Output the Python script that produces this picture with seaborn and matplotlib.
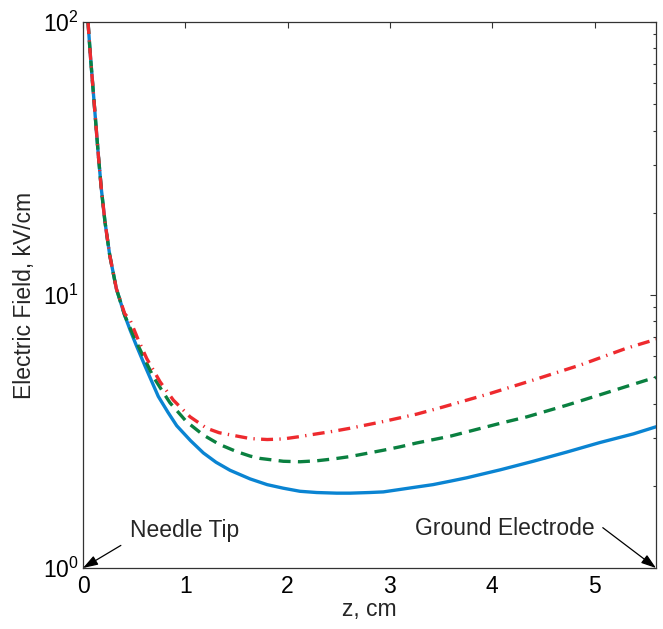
import matplotlib
matplotlib.use("Agg")
import matplotlib.pyplot as plt
import seaborn as sns
import pandas as pd

# ---- data ----
# shared steep section near the needle tip
tip_z = [0.049, 0.072, 0.098, 0.124, 0.150, 0.179, 0.215, 0.261, 0.326]
tip_E = [100, 75.5, 57, 43, 32.5, 24.5, 18.5, 14.0, 10.55]

blue_z = [0.407, 0.46, 0.52, 0.61, 0.736, 0.83, 0.916, 1.05, 1.176, 1.30, 1.437, 1.633, 1.80,
          1.958, 2.12, 2.284, 2.48, 2.61, 2.80, 2.935, 3.10, 3.26, 3.42, 3.59, 3.75, 4.08,
          4.40, 4.73, 5.05, 5.38, 5.6]
blue_E = [8.43, 7.45, 6.55, 5.45, 4.25, 3.72, 3.32, 2.93, 2.64, 2.44, 2.28, 2.12, 2.02,
          1.96, 1.91, 1.89, 1.88, 1.88, 1.89, 1.90, 1.94, 1.98, 2.02, 2.08, 2.14, 2.29,
          2.46, 2.66, 2.88, 3.10, 3.29]

green_z = [0.407, 0.50, 0.59, 0.687, 0.77, 0.85, 1.01, 1.176, 1.33, 1.50, 1.633, 1.73, 1.958,
           2.12, 2.284, 2.45, 2.61, 2.935, 3.10, 3.26, 3.59, 4.08, 4.34, 4.73, 5.12, 5.51, 5.6]
green_E = [8.43, 7.0, 5.95, 5.02, 4.48, 4.03, 3.44, 3.07, 2.84, 2.67, 2.57, 2.52, 2.46,
           2.45, 2.47, 2.51, 2.56, 2.70, 2.78, 2.87, 3.04, 3.39, 3.58, 3.95, 4.39, 4.88, 4.99]

red_z = [0.407, 0.46, 0.54, 0.623, 0.753, 0.883, 1.046, 1.209, 1.33, 1.469, 1.633, 1.80, 1.958,
         2.12, 2.284, 2.45, 2.61, 2.935, 3.10, 3.26, 3.52, 3.98, 4.40, 4.86, 5.31, 5.6]
red_E = [8.55, 8.10, 6.85, 5.85, 4.81, 4.12, 3.58, 3.25, 3.13, 3.06, 2.98, 2.955, 2.97,
         3.03, 3.10, 3.17, 3.25, 3.44, 3.55, 3.66, 3.89, 4.36, 4.88, 5.54, 6.38, 6.88]

xticks = [0, 1, 2, 3, 4, 5]
xlabel = "z, cm"
ylabel = "Electric Field, kV/cm"

sns.set_style("white")
plt.rcParams['font.family'] = ['Liberation Sans', 'DejaVu Sans']
plt.rcParams['mathtext.fontset'] = 'custom'
plt.rcParams['mathtext.rm'] = 'Liberation Sans'
plt.rcParams['mathtext.it'] = 'Liberation Sans:italic'

FS = 16.5

fig = plt.figure(figsize=(6.63, 6.29), dpi=100)
ax = fig.add_axes([83/663, 1-568/629, (656-83)/663, (568-22)/629])

def series(z, E):
    return pd.DataFrame({"z": tip_z + z, "E": tip_E + E})

blue = series(blue_z, blue_E)
green = series(green_z, green_E)
red = series(red_z, red_E)

sns.lineplot(data=blue, x="z", y="E", ax=ax, color="#0a84d2", linewidth=2.4, estimator=None, sort=False)
sns.lineplot(data=green, x="z", y="E", ax=ax, color="#0a8040", linewidth=2.4, estimator=None, sort=False)
sns.lineplot(data=red, x="z", y="E", ax=ax, color="#ee2a2e", linewidth=2.4, estimator=None, sort=False)
ax.lines[1].set_dashes([3.6, 2.2])
ax.lines[2].set_dashes([3.6, 1.9, 0.4, 1.9])

ax.set_yscale("log")
ax.set_xlim(0, 5.6)
ax.set_ylim(1, 100)
ax.set_xticks(xticks)
ax.set_xlabel(xlabel, fontsize=FS, labelpad=0)
ax.set_ylabel(ylabel, fontsize=FS, labelpad=5)

ax.tick_params(which="both", direction="in", top=True, right=True,
               colors="#333333", labelcolor="black", labelsize=FS)
ax.tick_params(which="major", length=4.5, width=0.8)
ax.tick_params(which="minor", length=2.5, width=0.8)
ax.tick_params(axis="x", pad=5)
ax.tick_params(axis="y", pad=3)
for sp in ax.spines.values():
    sp.set_color("#333333")
    sp.set_linewidth(0.9)

arrow = dict(arrowstyle="-|>,head_length=0.9,head_width=0.3", color="black", lw=0.9, shrinkA=0, shrinkB=0)
ax.annotate("", xy=(0, 1), xytext=(0.37, 1.21), arrowprops=arrow)
ax.text(0.46, 1.37, "Needle Tip", fontsize=FS, va="center", ha="left")
ax.annotate("", xy=(5.6, 1), xytext=(5.08, 1.405), arrowprops=arrow)
ax.text(5.0, 1.40, "Ground Electrode", fontsize=FS, va="center", ha="right")

fig.savefig("out.png", dpi=100)
